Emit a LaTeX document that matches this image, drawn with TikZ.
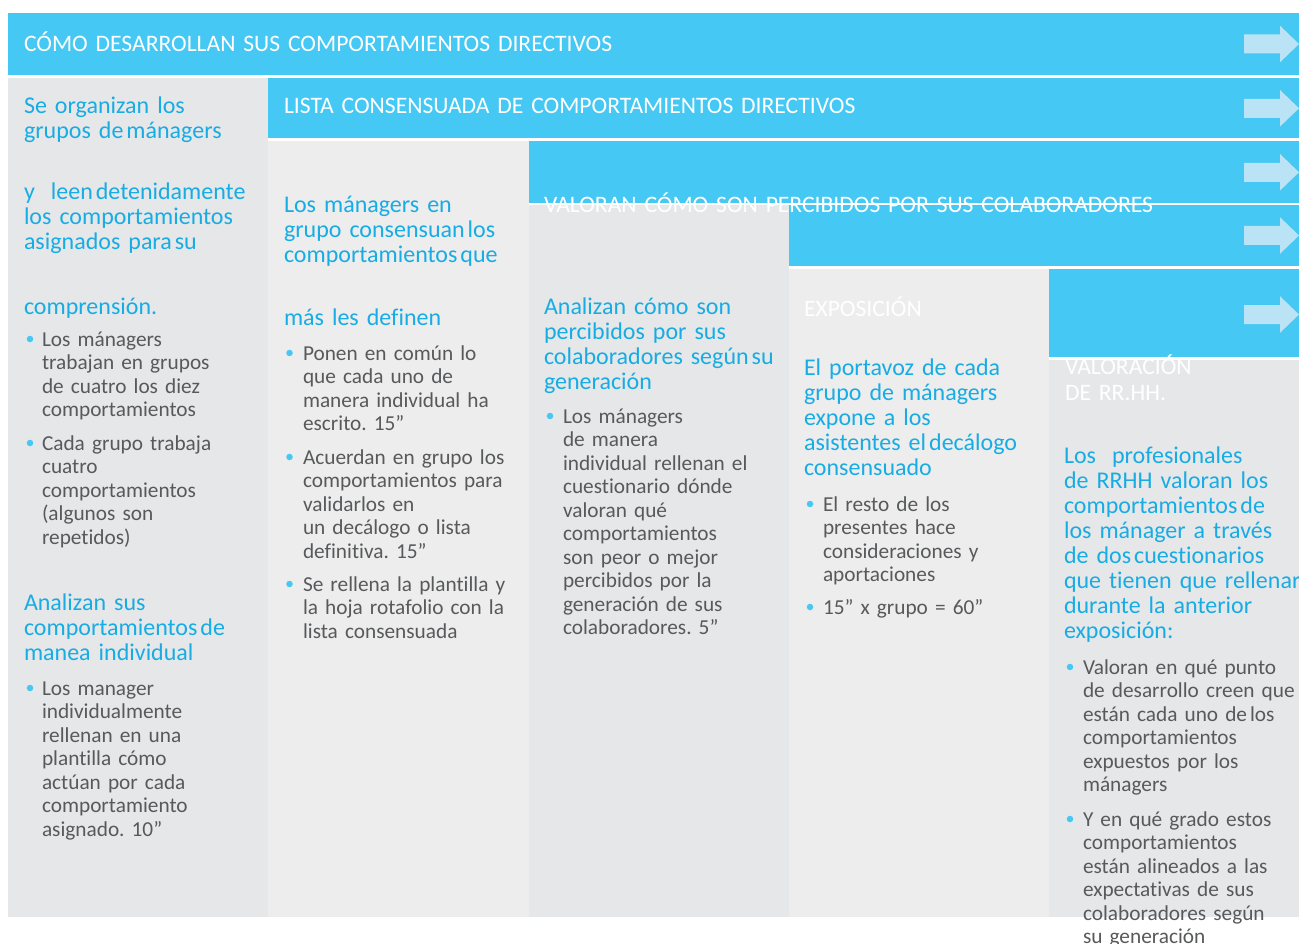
\documentclass[tikz,border=0pt]{standalone}
\usepackage{fontspec}
\setmainfont{Carlito}[Ligatures={NoCommon}]
\frenchspacing
\newcommand\tightsp{\hspace{3pt}}
\definecolor{bandblue}{RGB}{69,200,243}
\definecolor{arrowblue}{RGB}{186,228,245}
\definecolor{headblue}{RGB}{24,172,228}
\definecolor{bodygray}{RGB}{88,89,91}
\definecolor{grayA}{RGB}{230,231,232}
\definecolor{grayB}{RGB}{237,237,237}
\tikzset{
  every node/.style={inner sep=0pt, outer sep=0pt},
  headtxt/.style={anchor=base west, text width=300pt, align=left, text=headblue, font=\fontsize{24}{25}\selectfont},
  bodytxt/.style={anchor=base west, text width=300pt, align=left, text=bodygray, font=\fontsize{21.3}{23.5}\selectfont},
  bandtxt/.style={anchor=base west, text width=700pt, align=left, text=white, font=\fontsize{23.6}{26}\selectfont},
  bulletdot/.style={circle, fill=bandblue, minimum size=6.5pt, inner sep=0pt},
  bandfill/.style={fill=bandblue},
  arrowfill/.style={fill=arrowblue}
}
\begin{document}
\begin{tikzpicture}[x=1pt,y=-1pt]
\useasboundingbox (0,0) rectangle (1299,944);
\fill[white] (0,0) rectangle (1299,944);
% grey columns
\fill[grayA] (8,78) rectangle (268,917);
\fill[grayB] (268,141.5) rectangle (529,917);
\fill[grayA] (529,205.5) rectangle (789,917);
\fill[grayB] (789,269) rectangle (1049,917);
\fill[grayA] (1049,359.5) rectangle (1299,917);
% blue bands
\fill[bandfill] (8,13) rectangle (1299,75);
\fill[bandfill] (268,78) rectangle (1299,138.5);
\fill[bandfill] (529,141.5) rectangle (1299,203);
\fill[bandfill] (789,205.5) rectangle (1299,266);
\fill[bandfill] (1049,269) rectangle (1299,357);
% arrows
\foreach \c in {44,108.3,172.3,235.5,314.5}{
  \fill[arrowfill] (1244,{\c-9.5}) -- (1280,{\c-9.5}) -- (1280,{\c-18.3}) -- (1299,\c)
     -- (1280,{\c+18.3}) -- (1280,{\c+9.5}) -- (1244,{\c+9.5}) -- cycle;
}
% band titles
\node[bandtxt] (t1) at (24,52) {CÓMO DESARROLLAN SUS COMPORTAMIENTOS DIRECTIVOS};
\node[bandtxt] (t2) at (284,114) {LISTA CONSENSUADA DE COMPORTAMIENTOS DIRECTIVOS};
\node[bandtxt] (t3) at (544,212.7) {VALORAN CÓMO SON PERCIBIDOS POR SUS COLABORADORES};
\node[bandtxt] (t4) at (804,316.7) {EXPOSICIÓN};
\node[bandtxt] (t5) at (1065,374.3) {VALORACIÓN\\DE RR.HH.};
% column 1
\node[headtxt] (c1a) at (24,114) {Se organizan los\\grupos de\tightsp mánagers};
\node[headtxt] (c1b) at (24,200) {y\ \ leen\tightsp detenidamente\\los comportamientos\\asignados para\tightsp su};
\node[headtxt] (c1c) at (24,314) {comprensión.};
\node[bulletdot] (c1d1) at (30,339) {};
\node[bodytxt] (c1e) at (42,346) {Los mánagers\\trabajan en grupos\\de cuatro los diez\\comportamientos};
\node[bulletdot] (c1d2) at (30,443) {};
\node[bodytxt] (c1f) at (42,450) {Cada grupo trabaja\\cuatro\\comportamientos\\(algunos son\\repetidos)};
\node[headtxt] (c1g) at (24,610) {Analizan sus\\comportamientos\tightsp de\\manea individual};
\node[bulletdot] (c1d3) at (30,688) {};
\node[bodytxt] (c1h) at (42,695) {Los manager\\individualmente\\rellenan en una\\plantilla cómo\\actúan por cada\\comportamiento\\asignado. 10”};
% column 2
\node[headtxt] (c2a) at (284,213) {Los mánagers en\\grupo consensuan\tightsp los\\comportamientos\tightsp que};
\node[headtxt] (c2b) at (284,325) {más les definen};
\node[bulletdot] (c2d1) at (289.5,353) {};
\node[bodytxt] (c2c) at (303,360) {Ponen en común lo\\que cada uno de\\manera individual ha\\escrito. 15”};
\node[bulletdot] (c2d2) at (289.5,457) {};
\node[bodytxt] (c2e) at (303,464) {Acuerdan en grupo los\\comportamientos para\\validarlos en\\un decálogo o lista\\definitiva. 15”};
\node[bulletdot] (c2d3) at (289.5,584) {};
\node[bodytxt] (c2f) at (303,591) {\makebox[201pt][s]{Se rellena la plantilla y}\\\makebox[201pt][s]{la hoja rotafolio con la}\\lista consensuada};
% column 3
\node[headtxt] (c3a) at (544,314) {Analizan cómo son\\percibidos por sus\\colaboradores según\tightsp su\\generación};
\node[bulletdot] (c3d1) at (550,416) {};
\node[bodytxt] (c3b) at (563,423) {Los mánagers\\de manera\\individual rellenan el\\cuestionario dónde\\valoran qué\\comportamientos\\son peor o mejor\\percibidos por la\\generación de sus\\colaboradores. 5”};
% column 4
\node[headtxt] (c4a) at (804,375) {El portavoz de cada\\grupo de mánagers\\expone a los\\asistentes el\tightsp decálogo\\consensuado};
\node[bulletdot] (c4d1) at (810,504) {};
\node[bodytxt] (c4b) at (823,511) {El resto de los\\presentes hace\\consideraciones y\\aportaciones};
\node[bulletdot] (c4d2) at (810,607) {};
\node[bodytxt] (c4c) at (823,614) {15” x grupo = 60”};
% column 5
\node[headtxt] (c5a) at (1064,463) {Los\ \ profesionales\\de RRHH valoran los\\comportamientos\tightsp de\\los mánager a través\\de dos\tightsp cuestionarios\\que tienen que rellenar\\durante la anterior\\exposición:};
\node[bulletdot] (c5d1) at (1070,667) {};
\node[bodytxt] (c5b) at (1083,674) {Valoran en qué punto\\de desarrollo creen que\\están cada uno de\tightsp los\\comportamientos\\expuestos por los\\mánagers};
\node[bulletdot] (c5d2) at (1070,819) {};
\node[bodytxt] (c5c) at (1083,826) {Y en qué grado estos\\comportamientos\\están alineados a las\\expectativas de sus\\colaboradores según\\su generación};
\end{tikzpicture}
\end{document}
